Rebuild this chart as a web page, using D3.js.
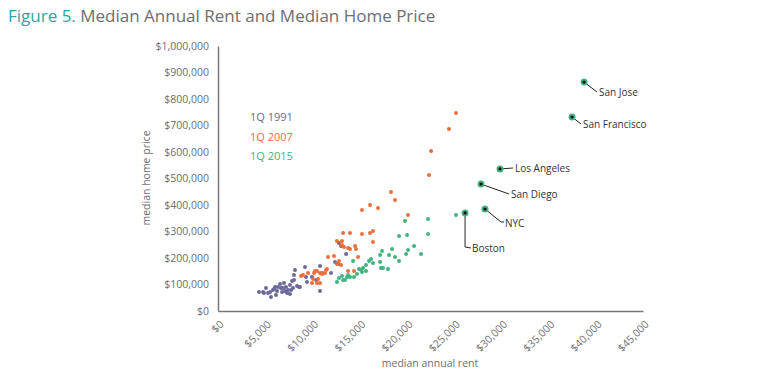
<!DOCTYPE html>
<html>
<head>
<meta charset="utf-8">
<script src="https://cdn.jsdelivr.net/npm/d3@7"></script>
<style>
  body { margin: 0; background: #fff; }
  text { font-family: "Open Sans", sans-serif; }
</style>
</head>
<body>
<svg width="768" height="377"></svg>
<script>
// rent (x, $) and home price (y, $) per metro, three quarters
var q1991 = [
  [4340, 71700], [4770, 71700], [4870, 67900], [5080, 86800], [5300, 67900],
  [5510, 71700], [5610, 52800], [5820, 79300], [5930, 83000], [6040, 90600],
  [6140, 60400], [6250, 75500], [6350, 90600], [6570, 101900], [6670, 86800],
  [6780, 71700], [6880, 86800], [6990, 105700], [7100, 75500], [7200, 90600],
  [7310, 67900], [7410, 79300], [7620, 64200], [7620, 98100], [7730, 79300],
  [7840, 113200], [7940, 86800], [8050, 117000], [8050, 135900], [8150, 154700],
  [8370, 94400], [8580, 90600], [8680, 90600], [9210, 166100], [9320, 128300],
  [9420, 109400], [9950, 128300], [10380, 117000], [10800, 169800], [10800, 75500],
  [11010, 143400], [11970, 143400], [12390, 184900], [12710, 177400], [12810, 256600],
  [13030, 245300], [13560, 215100]
];
var q2007 = [
  [8790, 132100], [9000, 135900], [9530, 143400], [10060, 120800], [9950, 105700],
  [10170, 143400], [10270, 151000], [10480, 151000], [10590, 120800], [10800, 105700],
  [10800, 143400], [11010, 139600], [11330, 143400], [11440, 154700], [11540, 158500],
  [10480, 105700], [11650, 203800], [12280, 207600], [12600, 177400], [13030, 173600],
  [12810, 188700], [12600, 264200], [13130, 264200], [13130, 249100], [13340, 241500],
  [13770, 237800], [13980, 234000], [14510, 245300], [14610, 234000], [13240, 294400],
  [13980, 294400], [15250, 290600], [16100, 294400], [16410, 301900], [16410, 260400],
  [13770, 151000], [14400, 151000], [14830, 203800], [15250, 381200], [16100, 400000],
  [16940, 388700], [18320, 449100], [18740, 418900], [20120, 362300], [22340, 513300],
  [22560, 603800], [24460, 686900], [25200, 747300]
];
var q2015 = [
  [12600, 109400], [12810, 124500], [13130, 132100], [13240, 117000], [13450, 117000],
  [13660, 128300], [13770, 135900], [13980, 128300], [14400, 128300], [14300, 188700],
  [14720, 139600], [14930, 158500], [15140, 154700], [15250, 147200], [15360, 162300],
  [15670, 173600], [15670, 151000], [15990, 188700], [16200, 196200], [16410, 181200],
  [17160, 211300], [17160, 184900], [17260, 162300], [17470, 162300], [17370, 226400],
  [18000, 158500], [18110, 211300], [18430, 234000], [18740, 203800], [19170, 188700],
  [19170, 283100], [19800, 339700], [20020, 286800], [19910, 215100], [20120, 230200],
  [20760, 245300], [21500, 215100], [22240, 347200], [22240, 290600], [25200, 362300]
];
// 2015 values of the labelled metros
var cities = ["San Jose", "San Francisco", "Los Angeles", "San Diego", "NYC", "Boston"];
var cityRent = [38760, 37490, 29860, 27850, 28270, 26160];
var cityPrice = [864000, 732000, 536000, 479000, 385000, 370000];

var seriesNames = ["1Q 1991", "1Q 2007", "1Q 2015"];
var colors = ["#6c6899", "#ef6d3c", "#40b381"];
var xTicks = d3.range(0, 45001, 5000);
var yTicks = d3.range(0, 1000001, 100000);

var svg = d3.select("svg");

var xScale = d3.scaleLinear().domain([0, 45000]).range([218, 643]),
    yScale = d3.scaleLinear().domain([0, 1000000]).range([311, 46]);

var fmt = d3.format("$,");

// Title
var title = svg.append("text")
  .attr("x", 8)
  .attr("y", 22)
  .style("font-size", "17px")
  .style("fill", "#6d6e71");
title.append("tspan").style("fill", "#2aa5ad").text("Figure 5.");
title.append("tspan").text(" Median Annual Rent and Median Home Price");

// axes
var gx = svg.append("g")
  .attr("transform", "translate(0," + yScale(0) + ")")
  .call(d3.axisBottom(xScale).tickValues(xTicks).tickSize(0).tickFormat(fmt));
gx.select(".domain").attr("stroke", "#777").attr("stroke-width", 1.5);
gx.selectAll("text")
  .attr("fill", "#6d6e71")
  .style("font-size", "10.5px")
  .attr("text-anchor", "end")
  .attr("dx", 0)
  .attr("dy", 0)
  .attr("transform", "translate(4,12) rotate(-45)");

var gy = svg.append("g")
  .attr("transform", "translate(" + xScale(0) + ",0)")
  .call(d3.axisLeft(yScale).tickValues(yTicks).tickSize(0).tickPadding(9).tickFormat(fmt));
gy.select(".domain").attr("stroke", "#777").attr("stroke-width", 1.5);
gy.selectAll("text")
  .attr("fill", "#6d6e71")
  .style("font-size", "10.5px");

// axis titles
svg.append("text")
  .attr("x", 430)
  .attr("y", 367)
  .attr("text-anchor", "middle")
  .style("font-size", "10.5px")
  .style("fill", "#6d6e71")
  .text("median annual rent");

svg.append("text")
  .attr("text-anchor", "middle")
  .attr("transform", "translate(150,178) rotate(-90)")
  .style("font-size", "10.5px")
  .style("fill", "#6d6e71")
  .text("median home price");

// points
[q1991, q2007, q2015].forEach(function (data, i) {
  svg.append("g")
    .selectAll("circle")
    .data(data)
    .enter()
    .append("circle")
    .attr("cx", function (d) { return xScale(d[0]); })
    .attr("cy", function (d) { return yScale(d[1]); })
    .attr("r", 2)
    .style("fill", colors[i]);
});

// legend
seriesNames.forEach(function (s, i) {
  svg.append("text")
    .attr("x", 250)
    .attr("y", 121 + i * 19.5)
    .style("font-size", "11px")
    .style("fill", colors[i])
    .text(s);
});

// labelled cities: leader line path, label position
var labelPos = [[599, 92], [583, 124], [515, 168], [511, 194], [505, 223], [472, 248]];
var cityData = cities.map(function (c, i) {
  return { name: c, x: cityRent[i], y: cityPrice[i], lx: labelPos[i][0], ly: labelPos[i][1] };
});

svg.append("g")
  .selectAll("path")
  .data(cityData)
  .enter()
  .append("path")
  .attr("d", function (d) {
    var x0 = xScale(d.x), y0 = yScale(d.y);
    if (d.name == "Boston") return "M" + x0 + "," + y0 + "L" + x0 + "," + (d.ly - 1) + "L" + (d.lx - 1) + "," + d.ly;
    if (d.name == "NYC") return "M" + x0 + "," + y0 + "L" + (d.lx - 4) + "," + (d.ly - 1) + "L" + (d.lx - 1) + "," + (d.ly - 1);
    return "M" + x0 + "," + y0 + "L" + (d.lx - 2) + "," + d.ly;
  })
  .style("fill", "none")
  .style("stroke", "#222")
  .style("stroke-width", 1);

var cg = svg.append("g")
  .selectAll("g")
  .data(cityData)
  .enter()
  .append("g");
cg.append("circle")
  .attr("cx", function (d) { return xScale(d.x); })
  .attr("cy", function (d) { return yScale(d.y); })
  .attr("r", 3.5)
  .style("fill", colors[2]);
cg.append("circle")
  .attr("cx", function (d) { return xScale(d.x); })
  .attr("cy", function (d) { return yScale(d.y); })
  .attr("r", 1.6)
  .style("fill", "#111");
cg.append("text")
  .attr("x", function (d) { return d.lx; })
  .attr("y", function (d) { return d.ly + 3.5; })
  .style("font-size", "10px")
  .style("fill", "#333")
  .text(function (d) { return d.name; });
</script>
</body>
</html>
